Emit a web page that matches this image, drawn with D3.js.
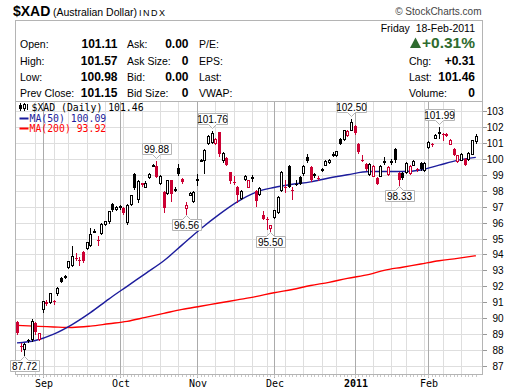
<!DOCTYPE html>
<html><head><meta charset="utf-8">
<script src="https://cdn.jsdelivr.net/npm/d3@7"></script>
<style>body{margin:0;background:#fff}svg{display:block}</style>
</head><body><svg id="c" width="520" height="391"></svg>
<script>
// ---------- DATA ----------
const dates = [
"2010-08-23","2010-08-24","2010-08-25","2010-08-26","2010-08-27","2010-08-30","2010-08-31",
"2010-09-01","2010-09-02","2010-09-03","2010-09-07","2010-09-08","2010-09-09","2010-09-10","2010-09-13","2010-09-14","2010-09-15","2010-09-16","2010-09-17","2010-09-20","2010-09-21","2010-09-22","2010-09-23","2010-09-24","2010-09-27","2010-09-28","2010-09-29","2010-09-30",
"2010-10-01","2010-10-04","2010-10-05","2010-10-06","2010-10-07","2010-10-08","2010-10-11","2010-10-12","2010-10-13","2010-10-14","2010-10-15","2010-10-18","2010-10-19","2010-10-20","2010-10-21","2010-10-22","2010-10-25","2010-10-26","2010-10-27","2010-10-28","2010-10-29",
"2010-11-01","2010-11-02","2010-11-03","2010-11-04","2010-11-05","2010-11-08","2010-11-09","2010-11-10","2010-11-11","2010-11-12","2010-11-15","2010-11-16","2010-11-17","2010-11-18","2010-11-19","2010-11-22","2010-11-23","2010-11-24","2010-11-26","2010-11-29","2010-11-30",
"2010-12-01","2010-12-02","2010-12-03","2010-12-06","2010-12-07","2010-12-08","2010-12-09","2010-12-10","2010-12-13","2010-12-14","2010-12-15","2010-12-16","2010-12-17","2010-12-20","2010-12-21","2010-12-22","2010-12-23","2010-12-27","2010-12-28","2010-12-29","2010-12-30","2010-12-31",
"2011-01-03","2011-01-04","2011-01-05","2011-01-06","2011-01-07","2011-01-10","2011-01-11","2011-01-12","2011-01-13","2011-01-14","2011-01-18","2011-01-19","2011-01-20","2011-01-21","2011-01-24","2011-01-25","2011-01-26","2011-01-27","2011-01-28","2011-01-31",
"2011-02-01","2011-02-02","2011-02-03","2011-02-04","2011-02-07","2011-02-08","2011-02-09","2011-02-10","2011-02-11","2011-02-14","2011-02-15","2011-02-16","2011-02-17","2011-02-18"];

const open = [89.75,88.28,88.08,88.66,88.71,89.69,88.71,
90.59,90.94,91.00,91.10,91.59,92.51,92.60,93.20,93.35,93.75,93.68,94.18,94.42,94.62,95.45,94.90,95.36,95.88,96.09,97.18,96.86,
96.95,96.93,96.02,97.18,99.02,97.50,98.47,98.26,98.85,99.62,99.58,98.47,97.90,97.87,98.64,98.10,99.44,98.75,96.93,97.76,97.38,
98.72,99.92,99.94,100.98,101.08,100.98,101.67,99.90,100.06,99.16,98.55,98.22,97.55,98.75,98.26,98.85,98.01,97.80,96.50,96.22,95.67,
96.34,96.65,98.05,98.25,99.55,98.05,98.45,98.85,99.08,100.14,99.50,99.00,98.78,99.33,99.64,99.80,100.30,100.21,101.25,101.25,101.52,101.82,
102.05,100.94,99.92,99.69,99.06,98.95,98.80,98.95,99.85,99.06,99.85,100.60,99.10,99.10,99.16,99.10,99.64,99.35,99.72,99.30,
100.73,100.96,101.32,101.67,101.55,101.58,100.94,100.63,99.85,99.94,100.00,100.00,100.31,101.11];
const high = [89.85,88.45,88.45,88.72,89.96,89.75,89.10,
91.10,91.12,91.60,91.15,91.95,92.60,92.70,93.60,94.56,94.10,93.87,94.20,94.80,95.65,95.62,95.13,95.95,96.12,96.75,97.25,97.05,
97.10,96.98,97.15,97.75,99.10,98.65,98.50,98.60,99.10,99.70,99.88,99.00,98.00,98.70,98.70,98.20,99.69,98.80,97.30,97.90,97.95,
99.06,100.00,100.60,101.50,101.76,101.30,101.70,100.40,100.10,99.20,98.95,98.30,98.05,99.00,98.70,99.00,98.05,98.20,96.70,96.34,95.85,
96.80,97.65,99.25,98.70,99.60,98.26,98.65,98.90,99.60,100.31,99.55,99.10,98.90,99.45,99.90,99.97,100.40,100.50,101.30,101.80,101.78,102.50,
102.10,101.00,100.21,99.75,99.72,99.60,98.85,99.60,100.10,99.55,100.00,100.70,99.15,99.15,99.80,99.60,99.90,99.45,99.80,99.80,
101.10,101.00,101.55,101.99,101.62,101.62,101.22,100.68,100.25,100.35,100.05,100.40,101.20,101.57];
const low = [89.00,87.97,87.72,88.50,88.60,89.00,88.65,
90.38,90.85,90.95,90.92,91.45,92.25,92.55,93.15,93.30,93.62,93.31,93.50,94.35,94.50,95.40,94.62,95.30,95.85,96.00,96.70,96.80,
96.85,96.55,95.92,97.10,98.10,97.30,98.30,98.20,98.80,99.55,98.85,98.40,96.65,97.80,97.38,98.00,99.00,98.50,96.56,97.70,97.30,
98.33,99.85,99.10,100.90,101.00,100.90,100.20,99.80,99.60,98.50,98.43,97.28,97.50,98.70,98.20,98.60,97.07,97.75,96.20,95.60,95.50,
96.30,96.60,98.00,97.90,98.20,97.49,98.33,98.40,99.00,99.80,98.60,98.85,98.65,99.25,99.60,99.75,100.20,100.15,100.90,101.20,101.45,101.78,
101.55,100.35,99.85,99.30,99.00,98.90,98.40,98.90,99.70,99.00,99.70,99.80,98.33,98.75,99.10,99.05,99.60,99.25,99.30,99.25,
100.70,100.80,101.30,101.30,101.20,101.40,100.90,100.25,99.80,99.90,99.60,99.95,100.28,100.98];
const close = [89.06,88.22,88.39,88.54,89.81,89.12,89.06,
91.07,91.02,91.57,91.05,91.88,92.30,92.62,93.56,93.91,93.73,93.66,93.56,94.75,95.29,95.48,94.87,95.92,96.09,96.71,96.76,97.00,
97.05,96.59,97.13,97.70,98.18,98.60,98.33,98.50,99.06,99.64,98.89,98.95,96.93,98.64,97.80,98.12,99.06,98.53,97.13,97.87,97.90,
98.75,99.95,100.56,101.46,101.60,101.25,100.31,100.35,99.64,98.60,98.52,97.70,98.01,98.95,98.64,98.87,97.35,98.15,96.22,96.19,95.82,
96.76,97.63,99.20,98.20,98.25,98.00,98.40,98.45,99.58,99.85,98.65,99.02,98.76,99.35,99.85,99.94,100.31,100.48,100.94,101.78,101.73,102.30,
101.60,100.40,99.88,99.37,99.69,99.55,98.43,99.55,99.88,99.50,99.86,99.90,98.64,98.80,99.72,99.55,99.85,99.30,99.35,99.72,
101.04,100.94,101.50,101.58,101.52,101.42,101.19,100.27,100.21,100.30,99.64,100.35,101.15,101.46];
const firstPrevClose = 89.90;

const ma50Dates = ["2010-08-23","2010-08-30","2010-09-07","2010-09-14","2010-09-21","2010-09-28","2010-10-05","2010-10-12","2010-10-19","2010-10-26","2010-11-02","2010-11-09","2010-11-16","2010-11-23","2010-12-01","2010-12-08","2010-12-15","2010-12-22","2010-12-30","2011-01-07","2011-01-13","2011-01-21","2011-01-28","2011-02-04","2011-02-11","2011-02-18"];
const ma50 = [88.45,88.60,89.00,89.60,90.35,91.20,92.00,92.80,93.60,94.60,95.60,96.50,97.30,97.90,98.20,98.40,98.55,98.80,99.00,99.20,99.20,99.20,99.30,99.60,99.90,100.09];
const ma200Dates = ["2010-08-23","2010-09-07","2010-09-14","2010-09-21","2010-09-28","2010-10-05","2010-10-12","2010-10-19","2010-10-26","2010-11-02","2010-11-09","2010-11-16","2010-11-23","2010-12-01","2010-12-08","2010-12-15","2010-12-22","2010-12-30","2011-01-07","2011-01-13","2011-01-21","2011-01-28","2011-02-04","2011-02-11","2011-02-18"];
const ma200 = [89.55,89.45,89.42,89.50,89.65,89.80,90.05,90.30,90.55,90.75,90.95,91.15,91.35,91.60,91.80,92.05,92.25,92.50,92.75,93.00,93.20,93.40,93.60,93.75,93.92];

const yTicks = [87,88,89,90,91,92,93,94,95,96,97,98,99,100,101,102,103];
const monthDates = ["2010-09-01","2010-10-01","2010-11-01","2010-12-01","2011-01-03","2011-02-01"];
const monthLabels = ["Sep","Oct","Nov","Dec","2011","Feb"];
const weekDates = ["2010-08-30","2010-09-07","2010-09-13","2010-09-20","2010-09-27","2010-10-04","2010-10-11","2010-10-18","2010-10-25","2010-11-08","2010-11-15","2010-11-22","2010-11-29","2010-12-06","2010-12-13","2010-12-20","2010-12-27","2011-01-10","2011-01-18","2011-01-24","2011-01-31","2011-02-07","2011-02-14"];

const noteDates = ["2010-08-25","2010-10-15","2010-10-27","2010-11-05","2010-11-30","2010-12-31","2011-01-20","2011-02-04"];
const noteValues = [87.72,99.88,96.56,101.76,95.50,102.50,98.33,101.99];
const noteSide = ["low","high","low","high","low","high","low","high"];

const hdrLabels1 = ["Open:","High:","Low:","Prev Close:"];
const hdrValues1 = ["101.11","101.57","100.98","101.15"];
const hdrLabels2 = ["Ask:","Ask Size:","Bid:","Bid Size:"];
const hdrValues2 = ["0.00","0","0.00","0"];
const hdrLabels3 = ["P/E:","EPS:","Last:","VWAP:"];
const hdrLabelsR = ["Chg:","Last:","Volume:"];
const hdrValuesR = ["+0.31","101.46","0"];

// ---------- CHART ----------
const svg = d3.select("#c");
const SANS = "Arial, 'Liberation Sans', sans-serif";
const MONO = "'DejaVu Sans Mono', monospace";
const RED = "#cc0033", NAVY = "#1c1c9c";
const L = 15.5, R = 482.5, T = 101.5, B = 374.5;

const x = d3.scalePoint().domain(dates).range([17, 475.8]);
const y = d3.scaleLinear().domain([87, 103]).range([366, 111]);
const px = d => Math.round(x(d));
const py = v => Math.round(y(v));

// header
svg.append("text").attr("x", 13).attr("y", 16).attr("font-family", SANS).attr("font-size", 14).attr("font-weight", "bold").text("$XAD");
svg.append("text").attr("x", 53).attr("y", 16).attr("font-family", SANS).attr("font-size", 10.5).text("(Australian Dollar)");
svg.append("text").attr("x", 139).attr("y", 16).attr("font-family", SANS).attr("font-size", 9).attr("letter-spacing", 1.5).text("INDX");
svg.append("text").attr("x", 481.5).attr("y", 15).attr("text-anchor", "end").attr("font-family", SANS).attr("font-size", 10).attr("fill", "#444").text("\u00A9 StockCharts.com");
svg.append("rect").attr("x", 15.5).attr("y", 20.5).attr("width", 467).attr("height", 81).attr("fill", "none").attr("stroke", "#b4b4b4");

const rowY = [48, 64.5, 81, 97];
const hdr = svg.append("g").attr("font-family", SANS);
rowY.forEach((yy, i) => {
  hdr.append("text").attr("x", 20).attr("y", yy).attr("font-size", 10.5).text(hdrLabels1[i]);
  hdr.append("text").attr("x", 117.5).attr("y", yy).attr("text-anchor", "end").attr("font-size", 12).attr("font-weight", "bold").text(hdrValues1[i]);
  hdr.append("text").attr("x", 127).attr("y", yy).attr("font-size", 10.5).text(hdrLabels2[i]);
  hdr.append("text").attr("x", 188.5).attr("y", yy).attr("text-anchor", "end").attr("font-size", 12).attr("font-weight", "bold").text(hdrValues2[i]);
  hdr.append("text").attr("x", 199).attr("y", yy).attr("font-size", 10.5).text(hdrLabels3[i]);
});
hdr.append("text").attr("x", 475).attr("y", 32).attr("text-anchor", "end").attr("font-size", 10.5).attr("xml:space", "preserve").text("Friday  18-Feb-2011");
hdr.append("path").attr("d", "M410,48 L415.5,37.5 L421,48 Z").attr("fill", "#2f6b2f");
hdr.append("text").attr("x", 475).attr("y", 48).attr("text-anchor", "end").attr("font-size", 15.5).attr("font-weight", "bold").attr("fill", "#2f6b2f").text("+0.31%");
hdrLabelsR.forEach((t, i) => {
  hdr.append("text").attr("x", 409).attr("y", rowY[i + 1]).attr("font-size", 10.5).text(t);
  hdr.append("text").attr("x", 475).attr("y", rowY[i + 1]).attr("text-anchor", "end").attr("font-size", 12).attr("font-weight", "bold").text(hdrValuesR[i]);
});

// grid
const grid = svg.append("g").attr("shape-rendering", "crispEdges");
grid.selectAll(".hg").data(yTicks).join("line")
  .attr("x1", L).attr("x2", R).attr("y1", d => py(d) + 0.5).attr("y2", d => py(d) + 0.5)
  .attr("stroke", "#dedede");
grid.selectAll(".wg").data(weekDates).join("line")
  .attr("x1", d => px(d) + 0.5).attr("x2", d => px(d) + 0.5).attr("y1", T).attr("y2", B)
  .attr("stroke", "#dedede");
grid.selectAll(".mg").data(monthDates).join("line")
  .attr("x1", d => px(d) + 0.5).attr("x2", d => px(d) + 0.5).attr("y1", T).attr("y2", B + 3)
  .attr("stroke", "#ababab");
svg.append("rect").attr("x", L).attr("y", T).attr("width", R - L).attr("height", B - T)
  .attr("fill", "none").attr("stroke", "#b4b4b4").attr("shape-rendering", "crispEdges");

// y axis right
const ya = svg.append("g").attr("font-family", SANS).attr("font-size", 10);
yTicks.forEach(v => {
  ya.append("line").attr("x1", R).attr("x2", R + 4).attr("y1", py(v) + 0.5).attr("y2", py(v) + 0.5).attr("stroke", "#999").attr("shape-rendering", "crispEdges");
  ya.append("text").attr("x", 503.5).attr("y", py(v) + 4).attr("text-anchor", "end").text(v);
});
// x ticks & labels
svg.append("g").selectAll("line").data(dates).join("line")
  .attr("x1", d => px(d) + 0.5).attr("x2", d => px(d) + 0.5).attr("y1", B).attr("y2", B + 2)
  .attr("stroke", "#c8c8c8").attr("shape-rendering", "crispEdges");
svg.append("g").selectAll("text").data(monthDates).join("text")
  .attr("x", d => px(d) + 1).attr("y", 387).attr("text-anchor", "middle")
  .attr("font-family", MONO).attr("font-size", 10)
  .attr("font-weight", (d, i) => monthLabels[i] === "2011" ? "bold" : "normal")
  .text((d, i) => monthLabels[i]);

// moving averages
const line = d3.line().x(d => x(d[0])).y(d => y(d[1])).curve(d3.curveMonotoneX);
svg.append("path").attr("d", line(ma200Dates.map((d, i) => [d, ma200[i]])))
  .attr("fill", "none").attr("stroke", "#ff0000").attr("stroke-width", 1.4);
svg.append("path").attr("d", line(ma50Dates.map((d, i) => [d, ma50[i]])))
  .attr("fill", "none").attr("stroke", NAVY).attr("stroke-width", 1.4);

// candles
const cg = svg.append("g").attr("shape-rendering", "crispEdges");
dates.forEach((d, i) => {
  const prev = i === 0 ? firstPrevClose : close[i - 1];
  const col = close[i] < prev ? RED : "#000";
  const cx = px(d);
  cg.append("line").attr("x1", cx + 0.5).attr("x2", cx + 0.5).attr("y1", py(high[i])).attr("y2", py(low[i]) + 1).attr("stroke", col);
  const top = py(Math.max(open[i], close[i])), bot = py(Math.min(open[i], close[i]));
  if (close[i] > open[i]) {
    cg.append("rect").attr("x", cx - 0.5).attr("y", top + 0.5).attr("width", 2).attr("height", Math.max(bot - top, 1))
      .attr("fill", "#fff").attr("stroke", col);
  } else {
    cg.append("rect").attr("x", cx - 1).attr("y", top).attr("width", 3).attr("height", Math.max(bot - top, 1)).attr("fill", col);
  }
});

// annotations
const ng = svg.append("g").attr("font-family", SANS).attr("font-size", 10);
noteDates.forEach((d, i) => {
  const cx = px(d) + 0.5;
  const txt = noteValues[i].toFixed(2);
  const w = 29, h = 11;
  const bx = Math.round(cx - w / 2) + 0.5;
  let path, ty;
  if (noteSide[i] === "low") {
    const tip = py(noteValues[i]) + 1.5;
    const by = tip + 4;
    path = `M${bx},${by} H${cx - 4} L${cx},${tip} L${cx + 4},${by} H${bx + w} V${by + h} H${bx} Z`;
    ty = by + h - 2;
  } else {
    const tip = py(noteValues[i]) - 2.5;
    const by = tip - 4;
    path = `M${bx},${by} H${cx - 4} L${cx},${tip} L${cx + 4},${by} H${bx + w} V${by - h} H${bx} Z`;
    ty = by - 2;
  }
  ng.append("path").attr("d", path).attr("fill", "#fff").attr("stroke", "#b4b4b4");
  ng.append("text").attr("x", cx).attr("y", ty).attr("text-anchor", "middle").text(txt);
});

// legend
const lg = svg.append("g").attr("font-family", MONO).attr("font-size", 9.8);
lg.append("line").attr("x1", 20.5).attr("x2", 20.5).attr("y1", 103).attr("y2", 111).attr("stroke", "#000");
lg.append("rect").attr("x", 19).attr("y", 105).attr("width", 3).attr("height", 4).attr("fill", "#000");
lg.append("line").attr("x1", 24.5).attr("x2", 24.5).attr("y1", 103).attr("y2", 111).attr("stroke", "#000");
lg.append("rect").attr("x", 23.5).attr("y", 104.5).attr("width", 2).attr("height", 4).attr("fill", "#fff").attr("stroke", "#000");
lg.append("line").attr("x1", 27.5).attr("x2", 27.5).attr("y1", 104).attr("y2", 110).attr("stroke", "#000");
lg.append("text").attr("x", 31.5).attr("y", 111).text("$XAD (Daily) 101.46");
lg.append("line").attr("x1", 19.5).attr("x2", 28.5).attr("y1", 118.5).attr("y2", 118.5).attr("stroke", NAVY).attr("stroke-width", 2);
lg.append("text").attr("x", 29.5).attr("y", 121.7).attr("fill", NAVY).text("MA(50) 100.09");
lg.append("line").attr("x1", 19.5).attr("x2", 28.5).attr("y1", 128.5).attr("y2", 128.5).attr("stroke", "#ff0000").attr("stroke-width", 2);
lg.append("text").attr("x", 29.5).attr("y", 131.7).attr("fill", "#ff0000").text("MA(200) 93.92");
</script></body></html>
